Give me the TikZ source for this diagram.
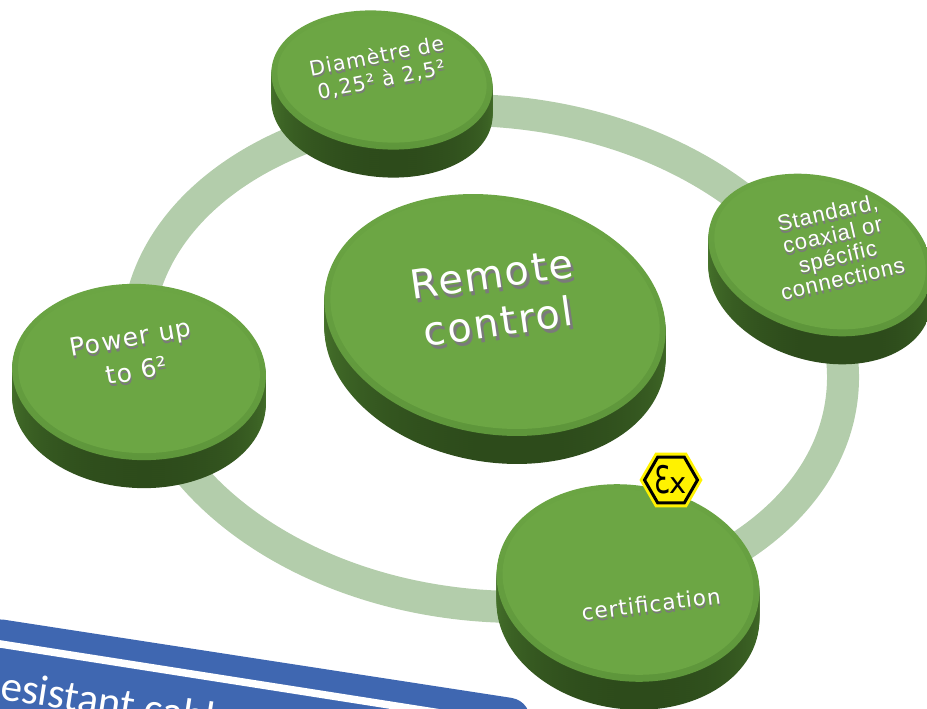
\documentclass[tikz,border=0pt]{standalone}
\usepackage{fontspec}
\setmainfont{DejaVu Sans}
\newfontfamily\spacedfont[LetterSpace=5]{DejaVu Sans}
\newfontfamily\arialfont[LetterSpace=4]{Liberation Sans}
\newfontfamily\bannerfont{Carlito}
\usetikzlibrary{positioning, shapes.geometric}

\definecolor{ringgreen}{HTML}{B3CDAB}
\definecolor{facegreen}{HTML}{6CA644}
\definecolor{rimgreen}{HTML}{5E963B}
\definecolor{sidetop}{HTML}{5F9A3B}
\definecolor{sidedark}{HTML}{2D4B1B}
\definecolor{bannerblue}{HTML}{3F67B1}
\definecolor{shadowgray}{HTML}{7A7A7A}
\definecolor{exyellow}{HTML}{FFF200}

\begin{document}
\begin{tikzpicture}[
    x=1pt, y=-1pt,
    % Styles
    discface/.style={ellipse, inner sep=0pt, outer sep=0pt},
    disclabel/.style={white, align=center, inner sep=0pt},
    discshadow/.style={shadowgray, align=center, inner sep=0pt},
]
    \useasboundingbox (0,0) rectangle (927,709);
    \clip (0,0) rectangle (927,709);

    % Ring behind the discs
    \node[ellipse, draw=ringgreen, line width=32pt, minimum width=708pt, minimum height=494pt,
          rotate=-6] (ring) at (490,358.5) {};

    % Blue banner, cut by the page
    \fill[bannerblue, rounded corners=24pt] (-20,616) -- (535,701.5) -- (510,800) -- (-20,800) -- cycle;
    \draw[white, line width=7.5pt] (-20,640.8) -- (600,738);
    \node[white, font=\bannerfont\fontsize{43}{43}\selectfont, anchor=base west, rotate=-8.9,
          inner sep=0pt] (bannertext) at (-1,699) {esistant cabl};

    % Discs: side as a stack of ellipses, then the face with its bevel
    \foreach \dname/\dx/\dy/\dw/\dh/\drot in {
        center/495/315/344/238/-10,
        top/382/80/222/138/-6,
        right/820/255/228/156/-16,
        left/139/372/254/176/-3,
        bottom/628/583/264/196/-8} {
        \foreach \k in {28,26,...,2} {
            \node[discface, top color=sidetop, bottom color=sidedark, minimum width=\dw pt,
                  minimum height=\dh pt, rotate=\drot, name=\dname-\k] at (\dx,\dy+\k) {};
        }
        \node[discface, top color=facegreen, bottom color=rimgreen, minimum width=\dw pt,
              minimum height=\dh pt, rotate=\drot, name=\dname-rim] at (\dx,\dy) {};
        \node[discface, fill=facegreen, minimum width=\dw pt-12pt, minimum height=\dh pt-12pt,
              rotate=\drot, name=\dname] at (\dx,\dy-1) {};
    }

    % Labels with their shadow
    \node[discshadow, font=\spacedfont\fontsize{40}{48}\selectfont, rotate=8] (centershadow) at (497.5,302) {Remote\\control};
    \node[disclabel, font=\spacedfont\fontsize{40}{48}\selectfont, rotate=8] (centerlabel) at (495,298) {Remote\\control};

    \node[discshadow, font=\spacedfont\fontsize{25}{34}\selectfont, rotate=10] (leftshadow) at (134.5,357) {Power up\\to 6²};
    \node[disclabel, font=\spacedfont\fontsize{25}{34}\selectfont, rotate=10] (leftlabel) at (133.5,354) {Power up\\to 6²};

    \node[discshadow, font=\spacedfont\fontsize{20.5}{24}\selectfont, rotate=11] (topshadow) at (380,70.5) {Diamètre de\\0,25² à 2,5²};
    \node[disclabel, font=\spacedfont\fontsize{20.5}{24}\selectfont, rotate=11] (toplabel) at (379,68) {Diamètre de\\0,25² à 2,5²};

    \node[discshadow, font=\arialfont\fontsize{22}{22.5}\selectfont, rotate=13] (rightshadow) at (836,248) {Standard,\\coaxial or\\spécific\\connections};
    \node[disclabel, font=\arialfont\fontsize{22}{22.5}\selectfont, rotate=13] (rightlabel) at (835,245.5) {Standard,\\coaxial or\\spécific\\connections};

    \node[discshadow, font=\spacedfont\fontsize{21.5}{22}\selectfont, rotate=7] (bottomshadow) at (652,606.5) {certification};
    \node[disclabel, font=\spacedfont\fontsize{21.5}{22}\selectfont, rotate=7] (bottomlabel) at (651,604) {certification};

    % Ex mark on the bottom disc
    \node[regular polygon, regular polygon sides=6, fill=exyellow, minimum size=63pt, inner sep=0pt,
          outer sep=0pt] (exouter) at (671,480) {};
    \node[regular polygon, regular polygon sides=6, draw=black, line width=3pt, fill=exyellow,
          minimum size=53pt, inner sep=0pt] (exmark) at (exouter)
          {\fontsize{38}{38}\selectfont\scalebox{.68}[1]{Ɛ}\hspace{-1pt}\fontsize{29}{29}\selectfont x};
\end{tikzpicture}
\end{document}
